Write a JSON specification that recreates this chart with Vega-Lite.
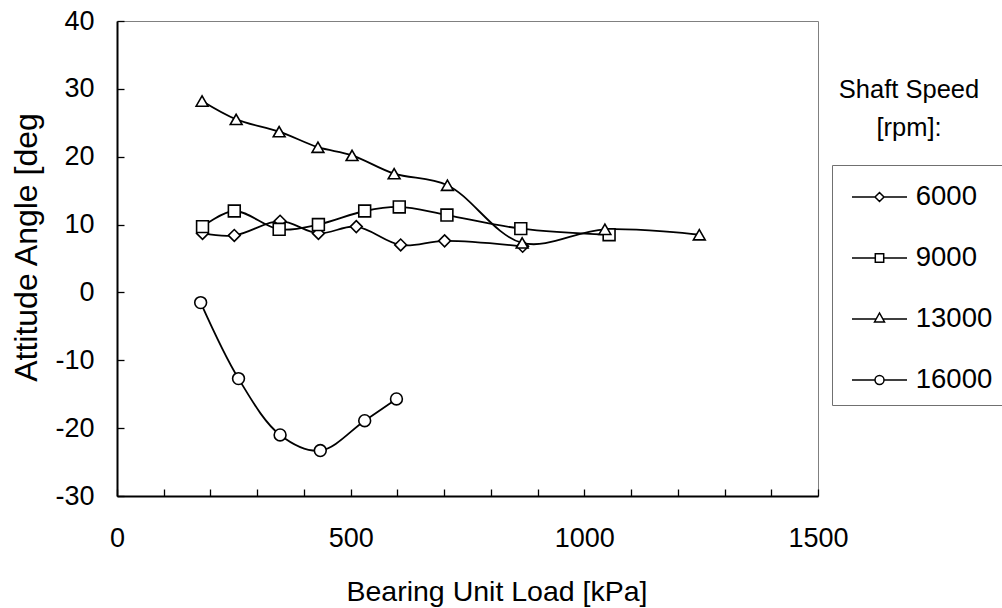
{
  "$schema": "https://vega.github.io/schema/vega-lite/v6.json",
  "width": 701,
  "height": 475,
  "autosize": "none",
  "padding": {"left": 117, "top": 21, "right": 184, "bottom": 112},
  "background": "white",
  "config": {
    "font": "Liberation Sans",
    "view": {"stroke": "#808080", "strokeWidth": 1},
    "axis": {
      "grid": false,
      "domainColor": "black",
      "domainWidth": 2,
      "tickColor": "black",
      "tickWidth": 1.3,
      "tickSize": -7,
      "labelColor": "black",
      "titleColor": "black",
      "labelFont": "Liberation Sans",
      "titleFont": "Liberation Sans",
      "labelFontSize": 27,
      "titleFontSize": 28.5,
      "titleFontWeight": "normal",
      "labelOverlap": false,
      "labelFlush": false
    }
  },
  "data": {
    "values": [
      {"speed": "6000", "load": 183, "angle": 8.7},
      {"speed": "6000", "load": 251, "angle": 8.4},
      {"speed": "6000", "load": 349, "angle": 10.5},
      {"speed": "6000", "load": 431, "angle": 8.7},
      {"speed": "6000", "load": 512, "angle": 9.7},
      {"speed": "6000", "load": 607, "angle": 7.0},
      {"speed": "6000", "load": 701, "angle": 7.6},
      {"speed": "6000", "load": 868, "angle": 6.8},
      {"speed": "9000", "load": 183, "angle": 9.7},
      {"speed": "9000", "load": 251, "angle": 12.0},
      {"speed": "9000", "load": 347, "angle": 9.3},
      {"speed": "9000", "load": 431, "angle": 10.0},
      {"speed": "9000", "load": 530, "angle": 12.0},
      {"speed": "9000", "load": 604, "angle": 12.6},
      {"speed": "9000", "load": 706, "angle": 11.4},
      {"speed": "9000", "load": 864, "angle": 9.4},
      {"speed": "9000", "load": 1053, "angle": 8.5},
      {"speed": "13000", "load": 182, "angle": 28.2},
      {"speed": "13000", "load": 255, "angle": 25.5},
      {"speed": "13000", "load": 347, "angle": 23.7},
      {"speed": "13000", "load": 430, "angle": 21.4},
      {"speed": "13000", "load": 503, "angle": 20.2},
      {"speed": "13000", "load": 593, "angle": 17.5},
      {"speed": "13000", "load": 707, "angle": 15.8},
      {"speed": "13000", "load": 867, "angle": 7.3},
      {"speed": "13000", "load": 1044, "angle": 9.3},
      {"speed": "13000", "load": 1246, "angle": 8.5},
      {"speed": "16000", "load": 179, "angle": -1.5},
      {"speed": "16000", "load": 260, "angle": -12.7},
      {"speed": "16000", "load": 349, "angle": -21.0},
      {"speed": "16000", "load": 435, "angle": -23.3},
      {"speed": "16000", "load": 530, "angle": -18.9},
      {"speed": "16000", "load": 598, "angle": -15.7}
    ]
  },
  "layer": [
    {
      "mark": {"type": "line", "interpolate": "catmull-rom", "color": "black", "strokeWidth": 1.8},
      "encoding": {
        "x": {
          "field": "load", "type": "quantitative",
          "scale": {"domain": [0, 1500], "nice": false, "zero": false},
          "axis": {
            "values": [0, 100, 200, 300, 400, 500, 600, 700, 800, 900, 1000, 1100, 1200, 1300, 1400, 1500],
            "labelExpr": "datum.value % 500 === 0 ? '' + datum.value : ''",
            "labelBaseline": "alphabetic",
            "labelPadding": 57.7,
            "title": "Bearing Unit Load [kPa]",
            "titleX": 379.5,
            "titleY": 104.5,
            "titleAlign": "center",
            "titleBaseline": "alphabetic",
            "titleAnchor": null
          }
        },
        "y": {
          "field": "angle", "type": "quantitative",
          "scale": {"domain": [-30, 40], "nice": false, "zero": false},
          "axis": {
            "values": [-30, -27.5, -25, -22.5, -20, -17.5, -15, -12.5, -10, -7.5, -5, -2.5, 0, 2.5, 5, 7.5, 10, 12.5, 15, 17.5, 20, 22.5, 25, 27.5, 30, 32.5, 35, 37.5, 40],
            "labelExpr": "datum.value % 10 === 0 ? '' + datum.value : ''",
            "labelPadding": 30,
            "labelBaseline": "middle",
            "title": "Attitude Angle [deg",
            "titleFontSize": 32,
            "titleX": -81,
            "titleY": 226,
            "titleAngle": -90,
            "titleAlign": "center",
            "titleBaseline": "alphabetic",
            "titleAnchor": null
          }
        },
        "detail": {"field": "speed"}
      }
    },
    {
      "mark": {"type": "point", "filled": true, "fill": "white", "stroke": "black", "strokeWidth": 1.6, "size": 140, "opacity": 1},
      "encoding": {
        "x": {"field": "load", "type": "quantitative"},
        "y": {"field": "angle", "type": "quantitative"},
        "shape": {
          "field": "speed", "type": "nominal",
          "scale": {"domain": ["6000", "9000", "13000", "16000"], "range": ["diamond", "square", "triangle-up", "circle"]},
          "legend": null
        }
      }
    },
    {
      "transform": [{"filter": "false"}],
      "mark": {"type": "point", "filled": false, "stroke": "black", "strokeWidth": 1.5, "opacity": 1},
      "encoding": {
        "shape": {
          "field": "speed", "type": "nominal",
          "scale": {
            "domain": ["6000", "9000", "13000", "16000"],
            "range": [
              "M-0.6,0H0.55M1,0H2.15M0.55,0L0.775,-0.225L1,0L0.775,0.225Z",
              "M-0.6,0H0.565M0.985,0H2.15M0.565,-0.21H0.985V0.21H0.565Z",
              "M-0.6,0H0.608M0.942,0H2.15M0.525,0.15L0.775,-0.3L1.025,0.15Z",
              "M-0.6,0H0.55M1,0H2.15M0.55,0A0.225,0.225,0,1,1,1,0A0.225,0.225,0,1,1,0.55,0Z"
            ]
          },
          "legend": {
            "orient": "none",
            "legendX": 715,
            "legendY": 144,
            "direction": "vertical",
            "columns": 1,
            "title": null,
            "padding": 11,
            "strokeColor": "#707070",
            "fillColor": "white",
            "symbolSize": 1600,
            "symbolStrokeWidth": 1.5,
            "symbolStrokeColor": "black",
            "symbolFillColor": "white",
            "symbolOpacity": 1,
            "rowPadding": 26,
            "labelOffset": 30.75,
            "labelFont": "Liberation Sans",
            "labelFontSize": 27.5,
            "labelColor": "black",
            "labelLimit": 300,
            "encode": {
              "symbols": {
                "update": {
                  "stroke": {"value": "black"},
                  "strokeWidth": {"value": 1.5},
                  "fill": {"value": "white"},
                  "opacity": {"value": 1}
                }
              }
            }
          }
        }
      }
    },
    {
      "transform": [{"filter": "false"}],
      "mark": {"type": "point", "filled": true, "opacity": 1},
      "encoding": {
        "color": {
          "field": "speed", "type": "nominal",
          "scale": {"domain": [""], "range": ["white"]},
          "legend": {
            "orient": "none",
            "legendX": 722,
            "legendY": 57,
            "title": ["Shaft Speed", "[rpm]:"],
            "titleFont": "Liberation Sans",
            "titleFontSize": 25.5,
            "titleFontWeight": "normal",
            "titleColor": "black",
            "titleAlign": "center",
            "titleAnchor": "middle",
            "titleLineHeight": 38,
            "titleLimit": 400,
            "padding": 0,
            "symbolSize": 0,
            "symbolOpacity": 0,
            "labelOpacity": 0,
            "labelFontSize": 1
          }
        }
      }
    }
  ],
  "resolve": {"scale": {"shape": "independent"}}
}
